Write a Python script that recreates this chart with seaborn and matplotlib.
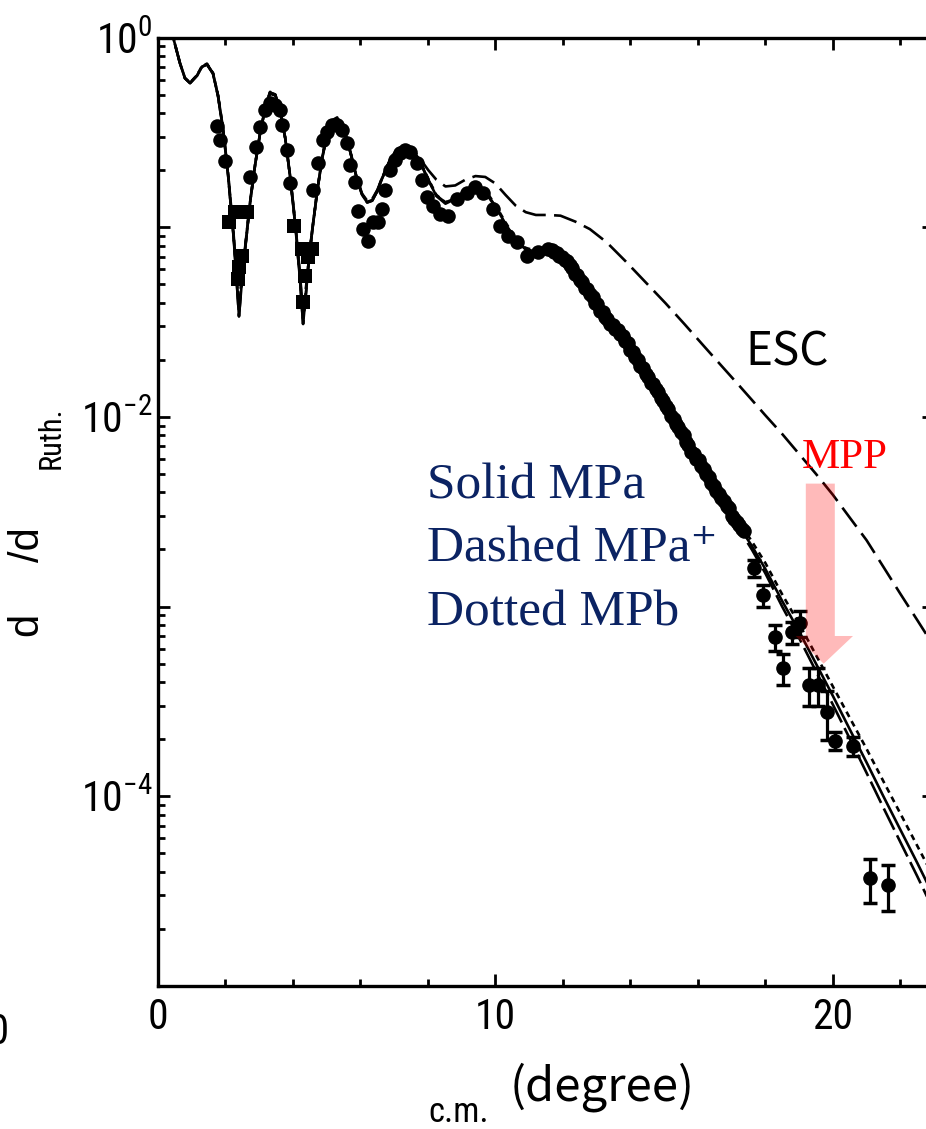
import numpy as np
import pandas as pd
import matplotlib
matplotlib.use("Agg")
import matplotlib.pyplot as plt
from matplotlib.patches import Polygon
from matplotlib.ticker import FixedLocator, MultipleLocator, LogLocator, FuncFormatter, NullFormatter
import seaborn as sns

# ---------------------------------------------------------------- theory curves
theta_th = [0.30, 0.45, 0.65, 0.80, 0.95, 1.16, 1.30, 1.45, 1.63, 1.78, 1.93, 2.08,
            2.23, 2.32, 2.40, 2.48, 2.58, 2.73, 2.88, 3.03, 3.18, 3.32, 3.47, 3.62,
            3.77, 3.92, 4.07, 4.21, 4.30, 4.38, 4.47, 4.57, 4.72, 4.87, 5.01, 5.16,
            5.31, 5.46, 5.61, 5.76, 5.90, 6.05, 6.20, 6.35, 6.50, 6.65, 6.88, 7.09,
            7.33, 7.54, 7.77, 8.01, 8.25, 8.52, 8.81, 9.11, 9.41, 9.70, 10.0, 10.3,
            10.6, 10.9, 11.2, 11.57, 11.93, 12.37, 12.8, 13.3, 13.86, 14.45, 15.04,
            15.6, 16.2, 16.7, 17.2, 17.6, 18.0, 18.5, 19.0, 19.5, 20.0, 20.5, 21.0,
            21.5, 22.0, 22.5, 23.0]

sig_mpa = [1.318, 1.0, 0.733, 0.610, 0.575, 0.631, 0.700, 0.724, 0.646, 0.490, 0.324, 0.186,
           0.0933, 0.0562, 0.0339, 0.0501, 0.0759, 0.135, 0.214, 0.316, 0.427, 0.513, 0.501, 0.412,
           0.295, 0.182, 0.102, 0.0525, 0.0309, 0.0437, 0.0661, 0.0955, 0.155, 0.234, 0.309, 0.363,
           0.376, 0.347, 0.288, 0.226, 0.178, 0.148, 0.135, 0.138, 0.155, 0.182, 0.226, 0.257,
           0.266, 0.257, 0.221, 0.178, 0.146, 0.133, 0.141, 0.155, 0.162, 0.155, 0.129, 0.104,
           0.0861, 0.0767, 0.0741, 0.0759, 0.0692, 0.0562, 0.0437, 0.0327, 0.0251, 0.0168, 0.0113,
           0.00759, 0.00513, 0.00367, 0.00269, 0.00209, 0.00158, 0.00107, 7.41e-4, 5.01e-4, 3.39e-4,
           2.26e-4, 1.51e-4, 1.0e-4, 6.68e-5, 4.47e-5, 2.95e-5]

sig_mpa_plus = [1.318, 1.0, 0.733, 0.610, 0.575, 0.631, 0.700, 0.720, 0.646, 0.495, 0.330, 0.190,
                0.0970, 0.0600, 0.0390, 0.0540, 0.0780, 0.137, 0.214, 0.316, 0.425, 0.505, 0.495, 0.410,
                0.295, 0.184, 0.105, 0.0560, 0.0350, 0.0470, 0.0680, 0.0965, 0.155, 0.232, 0.305, 0.358,
                0.371, 0.343, 0.286, 0.226, 0.180, 0.150, 0.138, 0.141, 0.157, 0.183, 0.225, 0.254,
                0.262, 0.253, 0.219, 0.178, 0.147, 0.135, 0.142, 0.155, 0.161, 0.153, 0.128, 0.103,
                0.0855, 0.0762, 0.0737, 0.0755, 0.0690, 0.0560, 0.0435, 0.0325, 0.0249, 0.0167, 0.0112,
                0.00752, 0.00507, 0.00359, 0.00260, 0.00200, 0.00150, 0.00100, 6.84e-4, 4.57e-4, 3.05e-4,
                2.02e-4, 1.33e-4, 8.71e-5, 5.75e-5, 3.80e-5, 2.48e-5]

sig_mpb = [1.318, 1.0, 0.733, 0.610, 0.578, 0.635, 0.705, 0.728, 0.650, 0.495, 0.328, 0.188,
           0.0950, 0.0580, 0.0360, 0.0520, 0.0770, 0.136, 0.215, 0.318, 0.430, 0.517, 0.505, 0.415,
           0.297, 0.183, 0.104, 0.0545, 0.0330, 0.0455, 0.0670, 0.0960, 0.156, 0.235, 0.311, 0.366,
           0.379, 0.350, 0.290, 0.228, 0.179, 0.149, 0.136, 0.139, 0.156, 0.184, 0.228, 0.259,
           0.268, 0.259, 0.223, 0.180, 0.148, 0.135, 0.143, 0.157, 0.164, 0.157, 0.131, 0.106,
           0.0875, 0.0778, 0.0751, 0.0768, 0.0700, 0.0570, 0.0443, 0.0332, 0.0255, 0.0171, 0.0115,
           0.00772, 0.00525, 0.00380, 0.00282, 0.00221, 0.00170, 0.00116, 8.13e-4, 5.56e-4, 3.80e-4,
           2.60e-4, 1.78e-4, 1.20e-4, 8.13e-5, 5.50e-5, 3.72e-5]

sig_esc = [1.318, 1.0, 0.733, 0.610, 0.575, 0.631, 0.700, 0.724, 0.646, 0.490, 0.324, 0.186,
           0.0933, 0.0562, 0.0339, 0.0501, 0.0759, 0.135, 0.214, 0.316, 0.427, 0.513, 0.501, 0.412,
           0.295, 0.182, 0.102, 0.0525, 0.0309, 0.0437, 0.0661, 0.0955, 0.155, 0.234, 0.309, 0.363,
           0.376, 0.347, 0.288, 0.226, 0.178, 0.148, 0.135, 0.138, 0.155, 0.182, 0.226, 0.257,
           0.266, 0.260, 0.229, 0.200, 0.178, 0.164, 0.166, 0.178, 0.186, 0.184, 0.170, 0.148,
           0.130, 0.120, 0.116, 0.116, 0.115, 0.107, 0.0977, 0.0832, 0.0661, 0.0513, 0.0398,
           0.0309, 0.0234, 0.0186, 0.0148, 0.0123, 0.0102, 0.00813, 0.00638, 0.00501, 0.00389,
           0.00295, 0.00224, 0.00162, 0.00117, 8.51e-4, 6.17e-4]

# ---------------------------------------------------------------- measured data
theta_circ = [1.75, 1.84, 1.99, 2.73, 2.91, 3.03, 3.18, 3.32, 3.47, 3.62, 3.68, 3.83, 3.92,
              4.60, 4.75, 4.90, 5.01, 5.16, 5.31, 5.46, 5.61, 5.70, 5.85, 5.93, 6.08, 6.23,
              6.38, 6.53, 6.65, 6.74, 6.88, 7.03, 7.18, 7.33, 7.48, 7.69, 7.83, 7.98, 8.16,
              8.37, 8.61, 8.87, 9.17, 9.41, 9.64, 9.94, 10.15, 10.36, 10.65, 10.95, 11.25,
              11.57, 11.75, 11.9, 12.05, 12.2, 12.35, 12.5, 12.65, 12.8, 12.95, 13.1, 13.25,
              13.4, 13.55, 13.7, 13.85, 14.0, 14.15, 14.3, 14.45, 14.6, 14.75, 14.9, 15.05,
              15.2, 15.35, 15.5, 15.65, 15.8, 15.95, 16.1, 16.25, 16.4, 16.55, 16.7, 16.85,
              17.0, 17.15, 17.3]
sig_circ = [0.343, 0.289, 0.222, 0.185, 0.266, 0.339, 0.416, 0.453, 0.442, 0.416, 0.347, 0.256, 0.172,
            0.158, 0.219, 0.289, 0.319, 0.347, 0.347, 0.327, 0.279, 0.214, 0.174, 0.121, 0.0973, 0.0841,
            0.106, 0.106, 0.124, 0.158, 0.201, 0.227, 0.247, 0.256, 0.250, 0.219, 0.178, 0.145, 0.129,
            0.117, 0.114, 0.140, 0.152, 0.162, 0.152, 0.124, 0.101, 0.0895, 0.0832, 0.0703, 0.0737,
            0.0764, 0.0741, 0.0708, 0.0668, 0.0631, 0.0569, 0.0525, 0.0479, 0.0442, 0.0398, 0.0363, 0.0335,
            0.0309, 0.0292, 0.0275, 0.0251, 0.0226, 0.0207, 0.0186, 0.0168, 0.0151, 0.0140, 0.0126, 0.0114,
            0.0101, 0.00923, 0.00832, 0.00741, 0.00653, 0.00603, 0.00550, 0.00501, 0.00447, 0.00407,
            0.00372, 0.00339, 0.00302, 0.00279, 0.00257]

# second, interleaved run of the forward-angle measurement
theta_run2 = [11.68, 11.82, 11.98, 12.12, 12.28, 12.42, 12.58, 12.72, 12.88, 13.02, 13.18, 13.32,
              13.48, 13.62, 13.78, 13.92, 14.08, 14.22, 14.38, 14.52, 14.68, 14.82, 14.98, 15.12,
              15.28, 15.42, 15.58, 15.72, 15.88, 16.02, 16.18, 16.32, 16.48, 16.62, 16.78, 16.92,
              17.08, 17.22, 17.38]
sig_run2 = [0.0760, 0.0735, 0.0700, 0.0660, 0.0610, 0.0560, 0.0512, 0.0470, 0.0428, 0.0392, 0.0356,
            0.0330, 0.0305, 0.0288, 0.0268, 0.0244, 0.0220, 0.0200, 0.0180, 0.0163, 0.0149, 0.0136,
            0.0122, 0.0110, 0.0098, 0.0089, 0.0080, 0.0071, 0.0064, 0.0059, 0.0053, 0.0048, 0.0043,
            0.0039, 0.0036, 0.0033, 0.0029, 0.0027, 0.0025]

theta_far = [17.66, 17.92, 18.28, 18.52, 18.78, 19.02, 19.29, 19.55, 19.82, 20.06, 20.59, 21.10, 21.63]
sig_far = [1.59e-3, 1.15e-3, 6.9e-4, 4.74e-4, 7.33e-4, 8.18e-4, 3.87e-4, 3.87e-4, 2.79e-4,
           1.96e-4, 1.85e-4, 3.7e-5, 3.4e-5]
err_far = [1.6e-4, 1.5e-4, 1.07e-4, 8.8e-5, 1.0e-4, 1.28e-4, 8.9e-5, 8.9e-5, 8.0e-5,
           2.1e-5, 2.1e-5, 9.5e-6, 9.2e-6]

theta_sq = [2.11, 2.28, 2.37, 2.40, 2.49, 2.64, 4.04, 4.27, 4.36, 4.30, 4.44, 4.57]
sig_sq = [0.107, 0.120, 0.0532, 0.0620, 0.0702, 0.120, 0.101, 0.0764, 0.0551, 0.0402, 0.0700, 0.0764]

# ---------------------------------------------------------------- styling
NARROW = ["Roboto Condensed", "PT Sans Narrow", "DejaVu Sans"]
sns.set_theme(style="ticks")
plt.rcParams.update({
    "font.family": NARROW,
    "mathtext.fontset": "custom",
    "mathtext.rm": "Roboto Condensed",
    "mathtext.it": "Roboto Condensed",
    "mathtext.bf": "Roboto Condensed",
    "lines.scale_dashes": False,
    "axes.linewidth": 2.4,
    "axes.edgecolor": "black",
    "text.color": "black",
    "axes.labelcolor": "black",
    "xtick.color": "black",
    "ytick.color": "black",
})

W, H = 926, 1129
fig = plt.figure(figsize=(W / 100, H / 100), dpi=100)
fig.patch.set_facecolor("white")
ax = fig.add_axes([158 / W, 1 - 986 / H, (934 - 158) / W, (986 - 37.5) / H])
ax.set_facecolor("white")
ax.set_yscale("log")

models = ["MPa", "MPa+", "MPb", "ESC"]
curves = [sig_mpa, sig_mpa_plus, sig_mpb, sig_esc]
theory = pd.concat(
    [pd.DataFrame({"theta": theta_th, "sigma": s, "model": m}) for m, s in zip(models, curves)],
    ignore_index=True,
)
dash_styles = {"MPa": "", "MPa+": (17, 4.5), "MPb": (4.3, 3.4), "ESC": (17, 6)}
sns.lineplot(data=theory, x="theta", y="sigma", style="model", dashes=dash_styles,
             color="black", linewidth=1.9, estimator=None, sort=False,
             legend=False, ax=ax, zorder=3)

# measured points
circ = pd.DataFrame({"theta": theta_circ + theta_run2, "sigma": sig_circ + sig_run2})
sq = pd.DataFrame({"theta": theta_sq, "sigma": sig_sq})
sns.scatterplot(data=circ, x="theta", y="sigma", marker="o", s=110, color="black",
                linewidth=0, ax=ax, zorder=4)
sns.scatterplot(data=sq, x="theta", y="sigma", marker="s", s=100, color="black",
                linewidth=0, ax=ax, zorder=4)
ax.errorbar(theta_far, sig_far, yerr=err_far, fmt="o", ms=9.5, color="black",
            ecolor="black", elinewidth=2.3, capsize=5, capthick=2.5, zorder=4)

# pink arrow pointing down onto the curves
arrow_shaft = (19.2, 20.06)
arrow_top = 4.45e-3
arrow_head_base = 7.0e-4
arrow_head = (18.9, 20.6)
arrow_tip = (19.73, 5.0e-4)
arrow = Polygon([(arrow_shaft[0], arrow_top), (arrow_shaft[1], arrow_top),
                 (arrow_shaft[1], arrow_head_base), (arrow_head[1], arrow_head_base),
                 arrow_tip, (arrow_head[0], arrow_head_base),
                 (arrow_shaft[0], arrow_head_base)],
                closed=True, facecolor="#ff0000", edgecolor="none", alpha=0.27, zorder=6)
ax.add_patch(arrow)

# axes, ticks
ax.set_xlim(0, 23)
ax.set_ylim(1e-5, 1)
ax.xaxis.set_major_locator(FixedLocator([0, 10, 20]))
ax.xaxis.set_minor_locator(MultipleLocator(2))
ax.yaxis.set_major_locator(LogLocator(base=10, numticks=12))
ax.yaxis.set_minor_locator(LogLocator(base=10, subs=np.arange(2, 10), numticks=12))
ax.yaxis.set_minor_formatter(NullFormatter())


def decade_label(v, pos):
    e = int(round(np.log10(v)))
    if e in (0, -2, -4):
        return r"$\mathregular{10^{%s}}$" % ("%d" % e if e == 0 else "\u2212%d" % (-e))
    return ""


ax.yaxis.set_major_formatter(FuncFormatter(decade_label))
ax.xaxis.set_major_formatter(FuncFormatter(lambda v, p: "%d" % v))
ax.tick_params(which="both", direction="in", top=True, right=True, width=2.0, colors="black")
ax.tick_params(which="major", length=8.6)
ax.tick_params(which="minor", length=5.0)
ax.tick_params(axis="x", which="major", labelsize=30, pad=8)
ax.tick_params(axis="y", which="major", labelsize=30, pad=4)
for sp in ax.spines.values():
    sp.set_linewidth(2.4)
ax.set_xlabel("")
ax.set_ylabel("")
ax.grid(False)

# axis titles (rotated pieces of the y title, read bottom to top)
ylab = dict(rotation=90, rotation_mode="anchor", ha="left", va="baseline", color="black")
fig.text(37 / W, 1 - 636 / H, "d", fontsize=30, family=["Liberation Sans", "DejaVu Sans"], **ylab)
fig.text(39 / W, 1 - 562 / H, "/d", fontsize=30, family=["Liberation Sans", "DejaVu Sans"], **ylab)
fig.text(60 / W, 1 - 469 / H, "Ruth.", fontsize=22, **ylab)
fig.text(428 / W, 1 - 1122 / H, "c.m.", ha="left", va="baseline", fontsize=25)
fig.text(510 / W, 1 - 1100 / H, "(degree)", ha="left", va="baseline", fontsize=34,
         family=["Noto Sans CJK JP", "DejaVu Sans"])
fig.text(9 / W, 1 - 1044 / H, "20", ha="right", va="baseline", fontsize=30)

# annotations
navy = "#0b2363"
serif = ["Liberation Serif", "DejaVu Serif"]
fig.text(427 / W, 1 - 498 / H, "Solid MPa", ha="left", va="baseline", fontsize=37,
         color=navy, family=serif)
fig.text(427 / W, 1 - 562 / H, "Dashed MPa\u207a", ha="left", va="baseline", fontsize=37,
         color=navy, family=serif)
fig.text(427 / W, 1 - 625 / H, "Dotted MPb", ha="left", va="baseline", fontsize=37,
         color=navy, family=serif)
fig.text(802 / W, 1 - 468 / H, "MPP", ha="left", va="baseline", fontsize=31,
         color="#ff0000", family=serif)
fig.text(745 / W, 1 - 365 / H, "ESC", ha="left", va="baseline", fontsize=33,
         color="black", family=["Noto Sans CJK JP", "DejaVu Sans"])

fig.savefig("out.png", dpi=100, facecolor="white")
